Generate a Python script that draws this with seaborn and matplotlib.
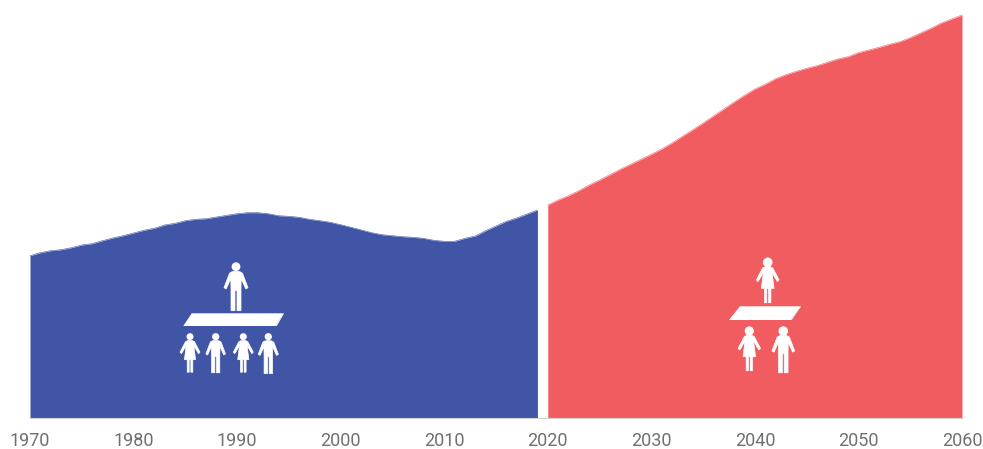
"""Area chart of two periods with small people pictograms on top."""
import matplotlib.pyplot as plt
import pandas as pd
import seaborn as sns
from matplotlib.patches import Circle, Polygon

years_past = list(range(1970, 2020))
values_past = [
    162.3, 165.3, 167.3, 168.3, 170.3, 173.0, 174.3, 177.3, 180.0, 182.3,
    185.0, 187.7, 189.7, 193.0, 194.7, 197.3, 198.7, 199.3, 201.0, 202.7,
    204.3, 205.3, 205.3, 204.3, 202.3, 201.7, 200.7, 198.7, 197.3, 195.7,
    193.3, 190.7, 188.0, 185.3, 183.3, 182.3, 181.3, 180.7, 179.7, 177.7,
    176.7, 176.7, 179.7, 182.0, 187.3, 192.0, 196.7, 200.0, 204.0, 208.0,
]
years_future = list(range(2020, 2061))
values_future = [
    213.0, 218.0, 222.3, 227.3, 233.0, 238.0, 243.3, 248.7, 253.7, 258.7,
    263.7, 269.0, 275.0, 281.7, 288.2, 295.0, 302.0, 309.0, 316.0, 322.7,
    329.0, 333.8, 339.3, 343.3, 346.7, 349.7, 352.3, 355.7, 359.0, 361.3,
    365.3, 368.0, 370.7, 373.7, 376.3, 380.3, 385.0, 389.7, 395.0, 399.0,
    403.0,
]
tick_years = list(range(1970, 2061, 10))

BLUE = '#4055A5'
RED = '#F15C61'
WIDTH, HEIGHT = 983, 449
BASE_PX = 418
PX_PER_YEAR = 932 / 90

# half outlines of the figures, mirrored below; px from the head centre
MAN_HALF = [(0, 4.5), (4, 5), (6.5, 6.5), (12, 21), (9.8, 22.3), (5.2, 12),
            (5, 23), (5, 44), (1, 44), (1, 24), (0, 24)]
WOMAN_HALF = [(0, 3.5), (2.5, 4), (4.5, 5), (10, 15.5), (8.5, 17), (3.8, 9),
              (5.6, 23), (2.8, 23), (2.8, 35.5), (0.8, 35.5), (0.8, 23), (0, 23)]


def mirror(half):
    return half + [(-x, y) for x, y in reversed(half)]


def draw_person(ax, outline, cx, cy, head, scale):
    """Draw one white figure; (cx, cy) is the middle of the head in px."""
    pts = [(cx + x * scale, cy + y * scale) for x, y in mirror(outline)]
    ax.add_patch(Polygon(pts, closed=True, fc='white', ec='white', lw=0.5))
    ax.add_patch(Circle((cx, cy), head, fc='white', ec='none'))


def draw_platform(ax, top_l, top_r, bottom_r, bottom_l):
    ax.add_patch(Polygon([top_l, top_r, bottom_r, bottom_l], closed=True,
                         fc='white', ec='none'))
    side = [top_r, bottom_r, (bottom_r[0] - 1.5, bottom_r[1]),
            (top_r[0] - 2, top_r[1] + 2)]
    ax.add_patch(Polygon(side, closed=True, fc='#dedede', ec='none'))


def main():
    sns.set_theme(style='white')
    plt.rcParams['font.family'] = ['Roboto', 'DejaVu Sans']

    df_past = pd.DataFrame({'year': years_past, 'value': values_past})
    df_future = pd.DataFrame({'year': years_future, 'value': values_future})

    fig = plt.figure(figsize=(WIDTH / 100, HEIGHT / 100), dpi=100)
    ax = fig.add_axes([0, (HEIGHT - BASE_PX) / HEIGHT, 1, BASE_PX / HEIGHT])

    for df, color in [(df_past, BLUE), (df_future, RED)]:
        ax.fill_between(df['year'], 0, df['value'], color=color, lw=0)
        sns.lineplot(data=df, x='year', y='value', color=color, lw=0.4, ax=ax)

    ax.set_xlim(1970 - 30 / PX_PER_YEAR, 1970 + (WIDTH - 30) / PX_PER_YEAR)
    ax.set_ylim(0, BASE_PX)
    ax.set_xlabel('')
    ax.set_ylabel('')
    ax.set_yticks([])
    ax.set_xticks(tick_years)
    ax.tick_params(axis='x', length=0, pad=10, labelsize=13,
                   labelcolor='#707070')
    sns.despine(ax=ax, left=True, right=True, top=True)
    ax.spines['bottom'].set_color('#d4d4d4')
    ax.spines['bottom'].set_linewidth(0.8)
    ax.spines['bottom'].set_bounds(1970, 2060)

    # overlay in pixel units for the pictograms
    over = fig.add_axes([0, 0, 1, 1], facecolor='none')
    over.set_xlim(0, WIDTH)
    over.set_ylim(HEIGHT, 0)
    over.axis('off')

    draw_person(over, MAN_HALF, 236, 266.7, 4.4, 1.0)
    draw_platform(over, (191.7, 313.3), (284, 313.3), (276.7, 326), (183.3, 326))
    draw_person(over, WOMAN_HALF, 190, 336.7, 3.5, 1.0)
    draw_person(over, MAN_HALF, 215.7, 336.7, 3.6, 0.82)
    draw_person(over, WOMAN_HALF, 243.3, 336.7, 3.5, 1.0)
    draw_person(over, MAN_HALF, 268.3, 336.7, 3.6, 0.84)

    draw_person(over, WOMAN_HALF, 767.7, 262.3, 4.8, 1.14)
    draw_platform(over, (740, 306.3), (801, 306.3), (791.7, 320), (729, 320))
    draw_person(over, WOMAN_HALF, 749.3, 331, 4.6, 1.12)
    draw_person(over, MAN_HALF, 783.3, 331, 4.8, 0.95)

    fig.savefig('out.png', dpi=100, facecolor='white')
    plt.close(fig)


if __name__ == '__main__':
    main()
